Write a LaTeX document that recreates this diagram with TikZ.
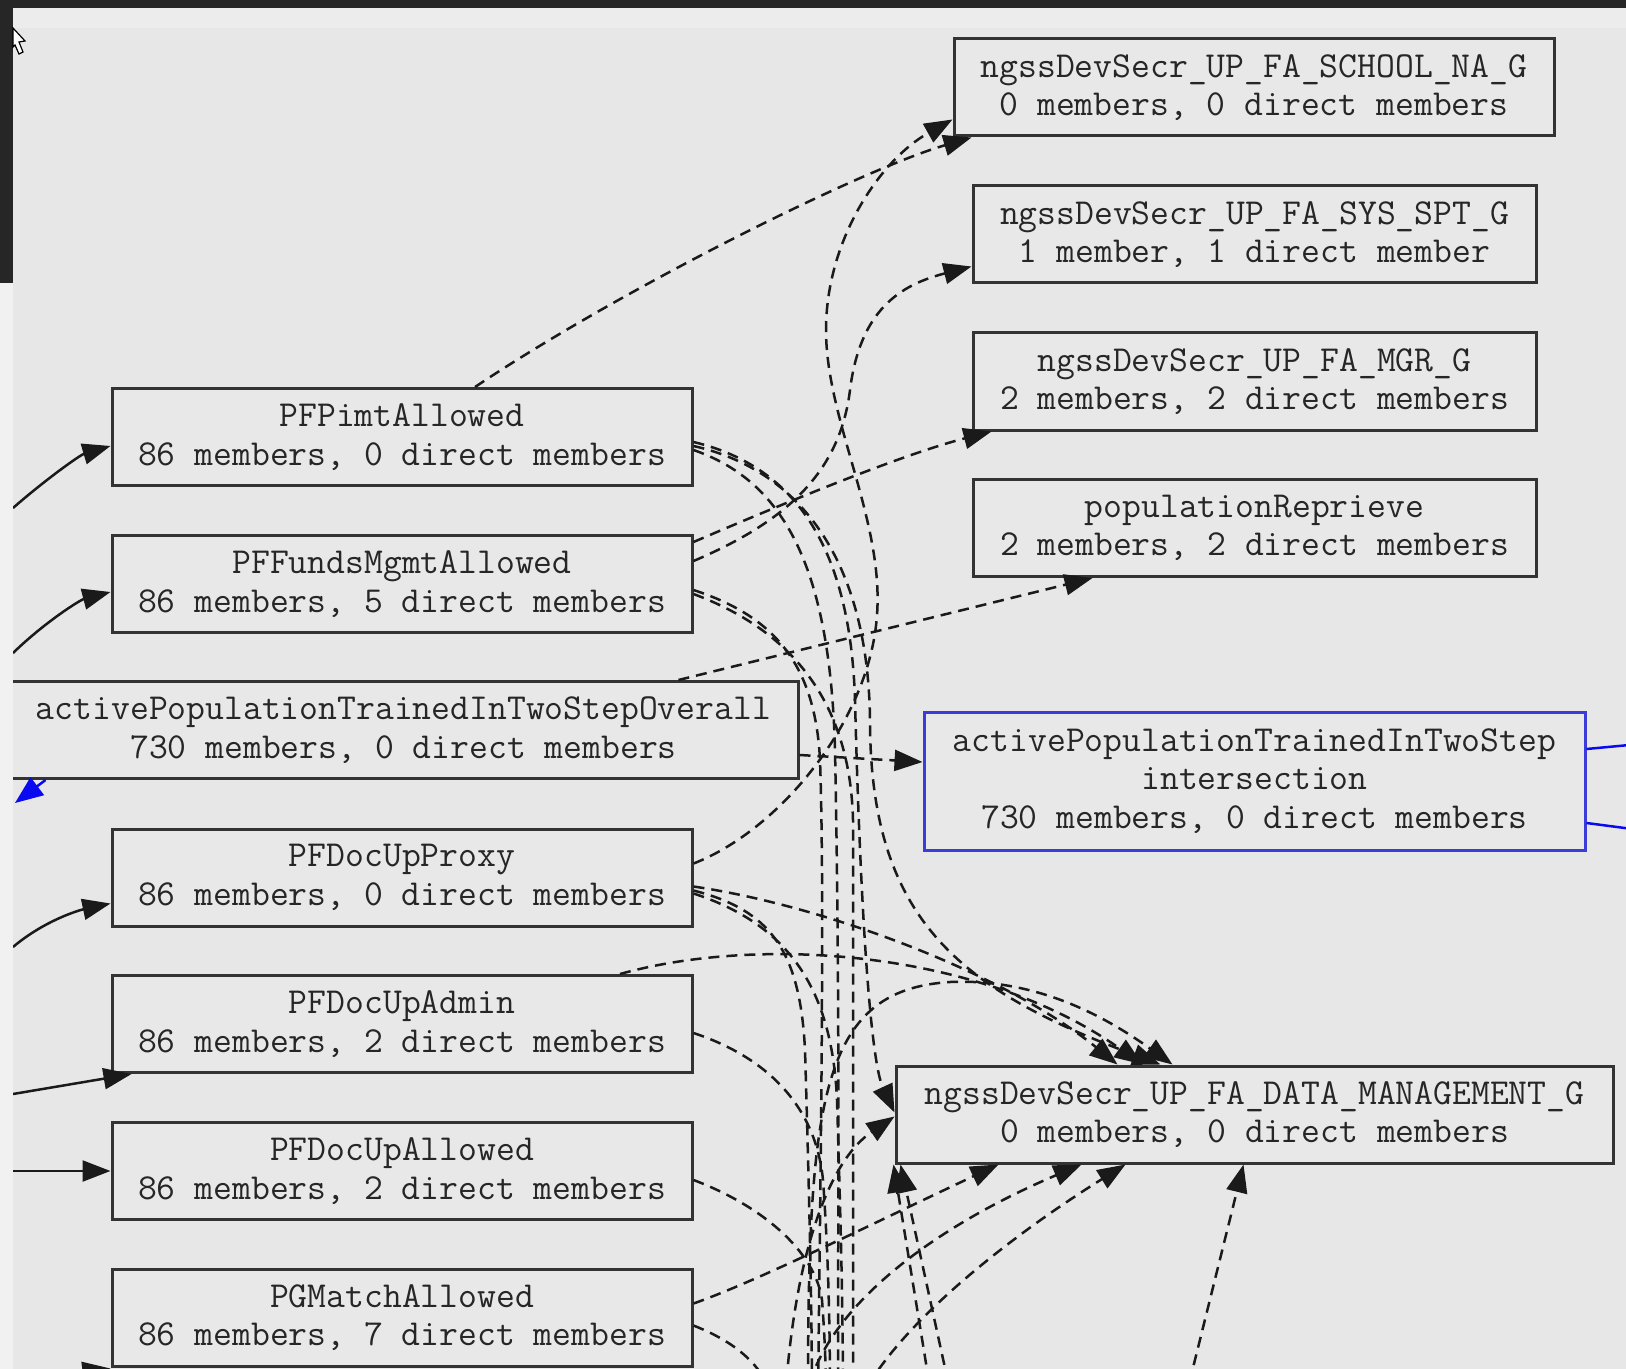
\documentclass[tikz,border=0pt]{standalone}
\usepackage{fontspec}
\usetikzlibrary{arrows.meta,calc}
\definecolor{bgc}{HTML}{E7E7E7}
\definecolor{boxfill}{HTML}{E8E8E8}
\definecolor{darkband}{HTML}{262626}
\definecolor{lightband}{HTML}{ECECEC}
\definecolor{stripc}{HTML}{F1F1F1}
\definecolor{ink}{HTML}{262626}
\definecolor{boxc}{HTML}{333333}
\definecolor{edgec}{HTML}{1A1A1A}
\definecolor{bluec}{HTML}{3C3CD8}
\definecolor{bluearrow}{HTML}{0A0AF0}
\begin{document}
\begin{tikzpicture}[x=0.5pt,y=-0.5pt,
  box/.style={draw=boxc, line width=1.5pt, fill=boxfill, text=ink, align=center,
    inner sep=0pt, font=\ttfamily\fontsize{18.3}{19.2}\selectfont},
  lbox/.style={minimum width=290pt, minimum height=48.5pt},
  rbox/.style={minimum width=281.5pt, minimum height=48.5pt},
  tip/.style={-{Triangle[length=14pt,width=10.5pt]}},
  dep/.style={draw=edgec, line width=1.25pt, dash pattern=on 5.5pt off 3.5pt, tip},
  depn/.style={draw=edgec, line width=1.25pt, dash pattern=on 5.5pt off 3.5pt},
  sol/.style={draw=edgec, line width=1.25pt, tip},
  blueedge/.style={draw=bluearrow, line width=1.25pt}]
\useasboundingbox (0,0) rectangle (1626,1369);
\clip (0,0) rectangle (1626,1369);
\fill[bgc] (0,0) rectangle (1626,1369);

% free ends of connectors that leave the visible area
\coordinate (offA) at (838,1400);
\coordinate (offB) at (818,1400);
\coordinate (offC) at (853,1400);
\coordinate (offD) at (812,1400);
\coordinate (offE) at (843,1400);
\coordinate (offF) at (830,1400);
\coordinate (offG) at (826,1400);
\coordinate (offH) at (775,1400);
\coordinate (offI) at (808,1400);
\coordinate (offJ) at (805,1400);
\coordinate (offK) at (860,1400);
\coordinate (offL) at (932,1400);
\coordinate (offM) at (952,1400);
\coordinate (offN) at (1185,1400);
\coordinate (offO) at (785,1400);
\coordinate (lA) at (13,508);
\coordinate (lB) at (13,653);
\coordinate (lC) at (13,947);
\coordinate (lD) at (13,1094);
\coordinate (lE) at (13,1171);
\coordinate (lF) at (13,1382);
\coordinate (bTip) at (15,803);
\coordinate (rA) at (1640,744);
\coordinate (rB) at (1640,830);

% nodes
\node[box, minimum width=300pt, minimum height=48.5pt] (school) at (1254,87.5)
  {ngssDevSecr\_UP\_FA\_SCHOOL\_NA\_G\\0 members, 0 direct members};
\node[box, rbox] (sys) at (1254.5,234.5)
  {ngssDevSecr\_UP\_FA\_SYS\_SPT\_G\\1 member, 1 direct member};
\node[box, rbox] (mgr) at (1254.5,381.5)
  {ngssDevSecr\_UP\_FA\_MGR\_G\\2 members, 2 direct members};
\node[box, rbox] (reprieve) at (1254.5,528)
  {populationReprieve\\2 members, 2 direct members};
\node[box, draw=bluec, minimum width=330.5pt, minimum height=69pt] (inter) at (1254.5,781)
  {activePopulationTrainedInTwoStep\\intersection\\730 members, 0 direct members};
\node[box, minimum width=358.5pt, minimum height=48.5pt] (datam) at (1254.5,1114.5)
  {ngssDevSecr\_UP\_FA\_DATA\_MANAGEMENT\_G\\0 members, 0 direct members};
\node[box, lbox] (pimt) at (402,437) {PFPimtAllowed\\86 members, 0 direct members};
\node[box, lbox] (funds) at (402,584) {PFFundsMgmtAllowed\\86 members, 5 direct members};
\node[box, minimum width=394.5pt, minimum height=48.5pt] (overall) at (403.5,730)
  {activePopulationTrainedInTwoStepOverall\\730 members, 0 direct members};
\node[box, lbox] (proxy) at (402,877.5) {PFDocUpProxy\\86 members, 0 direct members};
\node[box, lbox] (admin) at (402,1024) {PFDocUpAdmin\\86 members, 2 direct members};
\node[box, lbox] (allowed) at (402,1171) {PFDocUpAllowed\\86 members, 2 direct members};
\node[box, lbox] (pgmatch) at (402,1317.5) {PGMatchAllowed\\86 members, 7 direct members};

% dashed connectors
\draw[dep] ($(pimt.north)+(73,0)$) .. controls (620,290) and (860,170) .. ($(school.south west)+(19,0)$);
\draw[dep] ($(proxy.north east)+(0,36)$) .. controls (780,830) and (870,720) .. (877,615)
  .. controls (884,520) and (826,420) .. (826,330) .. controls (826,240) and (880,160) .. ($(school.west)+(0,32)$);
\draw[dep] ($(funds.north east)+(0,27)$) .. controls (790,520) and (840,470) .. (850,390)
  .. controls (860,310) and (900,285) .. ($(sys.west)+(0,32)$);
\draw[dep] ($(funds.north east)+(0,8)$) .. controls (780,505) and (900,455) .. ($(mgr.south west)+(20,0)$);
\draw[dep] ($(overall.north)+(275,0)$) -- ($(reprieve.south)+(-162,0)$);
\draw[dep] ($(overall.east)+(0,25)$) -- ($(inter.west)+(0,-19)$);

\draw[dep] ($(pimt.east)+(0,9)$) .. controls (800,470) and (868,560) .. (870,720)
  .. controls (870,920) and (960,990) .. ($(datam.north)+(-94,0)$);
\draw[dep] ($(pimt.east)+(0,5)$) .. controls (790,465) and (850,540) .. (855,700)
  .. controls (860,900) and (870,1060) .. ($(datam.west)+(0,-2)$);
\draw[depn] ($(pimt.east)+(0,13)$) .. controls (780,480) and (830,560) .. (835,750)
  .. controls (840,1000) and (838,1200) .. (offA);

\draw[depn] ($(funds.east)+(0,6)$) .. controls (770,615) and (815,660) .. (820,760)
  .. controls (825,900) and (820,1200) .. (offB);
\draw[depn] ($(funds.east)+(0,10)$) .. controls (790,630) and (850,700) .. (853,820) -- (offC);

\draw[dep] ($(proxy.east)+(0,9)$) .. controls (820,905) and (1000,970) .. ($(datam.north)+(-137,0)$);
\draw[depn] ($(proxy.east)+(0,13)$) .. controls (770,910) and (800,950) .. (805,1050)
  .. controls (808,1150) and (812,1300) .. (offD);
\draw[depn] ($(proxy.east)+(0,16)$) .. controls (790,925) and (832,990) .. (837,1100)
  .. controls (840,1200) and (843,1300) .. (offE);

\draw[dep] ($(admin.north)+(218,0)$) .. controls (760,935) and (980,950) .. ($(datam.north)+(-112,0)$);
\draw[depn] ($(admin.east)+(0,9)$) .. controls (760,1055) and (815,1100) .. (823,1180)
  .. controls (828,1250) and (830,1320) .. (offF);

\draw[depn] ($(allowed.east)+(0,9)$) .. controls (760,1205) and (815,1250) .. (822,1300)
  .. controls (825,1340) and (826,1370) .. (offG);

\draw[dep] ($(pgmatch.east)+(0,-14)$) .. controls (760,1280) and (880,1220) .. ($(datam.south west)+(104,0)$);
\draw[depn] ($(pgmatch.east)+(0,8)$) .. controls (730,1340) and (760,1360) .. (offH);

\draw[dep] (offI) .. controls (808,1100) and (820,990) .. (950,982)
  .. controls (1040,978) and (1110,1020) .. ($(datam.north)+(-82,0)$);
\draw[dep] (offJ) .. controls (825,1300) and (950,1220) .. ($(datam.south west)+(187,0)$);
\draw[dep] (offK) .. controls (900,1320) and (1020,1230) .. ($(datam.south west)+(231,0)$);
\draw[dep] (offL) -- ($(datam.south west)+(-1,0)$);
\draw[dep] (offM) -- ($(datam.south west)+(6,0)$);
\draw[dep] (offN) -- ($(datam.south)+(-11,0)$);
\draw[dep] (offO) .. controls (795,1250) and (830,1160) .. ($(datam.west)+(0,2)$);

% solid connectors from the left
\draw[sol] (lA) .. controls (45,480) and (80,455) .. ($(pimt.west)+(0,9)$);
\draw[sol] (lB) .. controls (45,622) and (80,600) .. ($(funds.west)+(0,8)$);
\draw[sol] (lC) .. controls (45,920) and (80,910) .. ($(proxy.west)+(0,26)$);
\draw[sol] (lD) -- ($(admin.south west)+(21,0)$);
\draw[sol] (lE) -- (allowed.west);
\draw[sol] (lF) -- ($(pgmatch.south west)+(0,1)$);

% blue connectors
\draw[blueedge, -{Triangle[length=14pt,width=11pt]}] ($(overall.south west)+(38,0)$) -- (bTip);
\draw[blueedge] ($(inter.east)+(0,-32)$) -- (rA);
\draw[blueedge] ($(inter.east)+(0,42)$) -- (rB);

% window chrome
\fill[darkband] (0,0) rectangle (1626,8);
\fill[lightband] (13,8) rectangle (1626,28);
\fill[darkband] (0,0) rectangle (13,283);
\fill[stripc] (0,283) rectangle (13,1369);
\filldraw[fill=white, draw=black, line width=0.6pt]
  (13,28) -- (25,41) -- (19,42) -- (23,52) -- (19,54) -- (15,45) -- (13,47) -- cycle;
\end{tikzpicture}
\end{document}
